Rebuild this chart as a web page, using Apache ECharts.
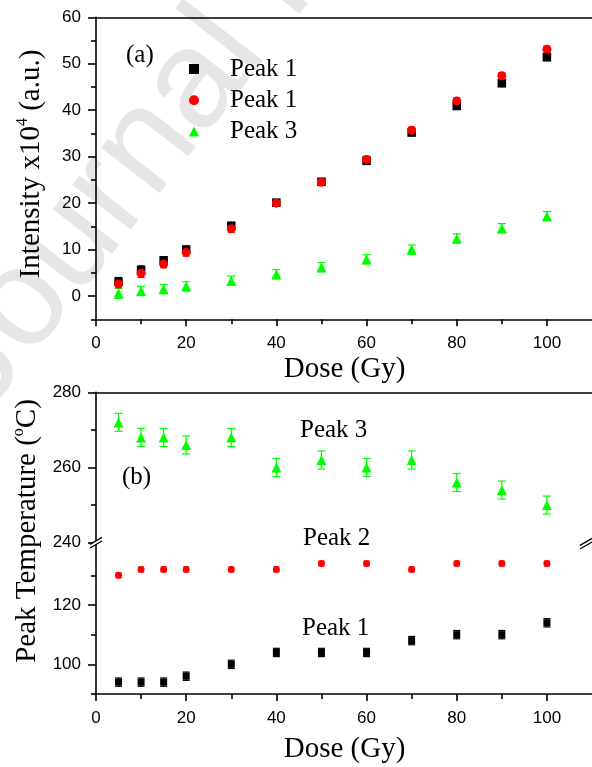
<!DOCTYPE html>
<html>
<head>
<meta charset="utf-8">
<script src="https://cdn.jsdelivr.net/npm/echarts@6/dist/echarts.min.js"></script>
<style>
  html, body { margin: 0; padding: 0; background: #fff; }
  #chart { width: 592px; height: 767px; }
</style>
</head>
<body>
<div id="chart"></div>
<script>
// Irradiation doses (Gy)
const doses = [5, 10, 15, 20, 30, 40, 50, 60, 70, 80, 90, 100];

// Panel (a): TL peak intensities, x10^4 a.u.
const intPeak1 = [3.1, 5.6, 7.7, 10.0, 15.1, 20.1, 24.6, 29.1, 35.2, 40.9, 45.8, 51.4];
const intPeak2 = [2.6, 4.9, 6.9, 9.4, 14.5, 20.0, 24.5, 29.4, 35.7, 42.0, 47.4, 53.1];
const intPeak3 = [0.6, 1.1, 1.5, 2.1, 3.3, 4.7, 6.2, 7.9, 10.0, 12.4, 14.6, 17.2];
const intErr1 = [0.9, 0.9, 0.8, 0.8, 0.8, 0.7, 0.7, 0.7, 0.7, 0.7, 0.7, 0.7];
const intErr2 = [0.9, 0.9, 0.8, 0.8, 0.8, 0.7, 0.7, 0.7, 0.7, 0.7, 0.7, 0.7];
const intErr3 = [1.1, 1.0, 1.0, 1.0, 1.0, 1.0, 1.0, 1.0, 1.0, 1.0, 1.0, 1.0];

// Panel (b): peak temperatures, degC
const tPeak1 = [94, 94, 94, 96, 100, 104, 104, 104, 108, 110, 110, 114];
const tPeak2 = [130, 132, 132, 132, 132, 132, 134, 134, 132, 134, 134, 134];
const tPeak3 = [272, 268, 268, 266, 268, 260, 262, 260, 262, 256, 254, 250];
const tErr1 = [1.4, 1.4, 1.4, 1.4, 1.4, 1.4, 1.4, 1.4, 1.4, 1.4, 1.4, 1.4];
const tErr2 = [0.8, 0.8, 0.8, 0.8, 0.8, 0.8, 0.8, 0.8, 0.8, 0.8, 0.8, 0.8];
const tErr3 = [2.4, 2.4, 2.4, 2.4, 2.4, 2.4, 2.4, 2.4, 2.4, 2.4, 2.4, 2.4];

// Legend texts of panel (a)
const legendLabels = ['Peak 1', 'Peak 1', 'Peak 3'];

// Tick values
const doseMajor = [0, 20, 40, 60, 80, 100];
const doseMinor = [10, 30, 50, 70, 90];
const intMajor = [0, 10, 20, 30, 40, 50, 60];
const intMinor = [-5, 5, 15, 25, 35, 45, 55];
const tHighMajor = [240, 260, 280];
const tHighMinor = [250, 270];
const tLowMajor = [100, 120];
const tLowMinor = [90, 110, 130];

const SANS = 'Liberation Sans, Arial, sans-serif';
const SERIF = 'Liberation Serif, Times New Roman, serif';
const BLACK = '#000000', RED = '#ff0000', GREEN = '#00ff00';

const chart = echarts.init(document.getElementById('chart'), null, { renderer: 'canvas' });

const lineStyle = { color: '#000', width: 1.6 };

function xAxisDef(grid, opts) {
  return Object.assign({
    type: 'value', gridIndex: grid, min: 0, max: 110, position: 'bottom',
    axisLine: { show: false, onZero: false, lineStyle },
    axisTick: { show: false },
    axisLabel: { show: false },
    splitLine: { show: false }
  }, opts);
}
function yAxisDef(grid, min, max, opts) {
  return Object.assign({
    type: 'value', gridIndex: grid, min, max, position: 'left',
    axisLine: { show: false, onZero: false, lineStyle },
    axisTick: { show: false },
    axisLabel: { show: false },
    splitLine: { show: false }
  }, opts);
}
const tickLabel = { show: true, color: '#000', fontFamily: SANS, fontSize: 17 };

const xAxes = [
  // 0: panel (a) bottom axis
  xAxisDef(0, {
    axisLine: { show: true, onZero: false, lineStyle },
    axisTick: { show: true, customValues: doseMajor, length: 7, lineStyle },
    axisLabel: Object.assign({ customValues: doseMajor, margin: 16 }, tickLabel)
  }),
  // 1: panel (a) minor ticks
  xAxisDef(0, { axisTick: { show: true, customValues: doseMinor, length: 5, lineStyle } }),
  // 2: panel (a) top frame
  xAxisDef(0, { position: 'top', axisLine: { show: true, onZero: false, lineStyle } }),
  // 3: panel (b) upper segment, top frame
  xAxisDef(1, { position: 'top', axisLine: { show: true, onZero: false, lineStyle } }),
  // 4: panel (b) bottom axis
  xAxisDef(2, {
    axisLine: { show: true, onZero: false, lineStyle },
    axisTick: { show: true, customValues: doseMajor, length: 7, lineStyle },
    axisLabel: Object.assign({ customValues: doseMajor, margin: 16 }, tickLabel)
  }),
  // 5: panel (b) minor ticks
  xAxisDef(2, { axisTick: { show: true, customValues: doseMinor, length: 5, lineStyle } })
];

const yAxes = [
  // 0: intensity
  yAxisDef(0, -5, 60, {
    axisLine: { show: true, onZero: false, lineStyle },
    axisTick: { show: true, customValues: intMajor, length: 8, lineStyle },
    axisLabel: Object.assign({ customValues: intMajor, margin: 15 }, tickLabel)
  }),
  // 1: intensity minor ticks
  yAxisDef(0, -5, 60, { axisTick: { show: true, customValues: intMinor, length: 5, lineStyle } }),
  // 2: temperature, upper segment
  yAxisDef(1, 240, 280, {
    axisLine: { show: true, onZero: false, lineStyle },
    axisTick: { show: true, customValues: tHighMajor, length: 8, lineStyle },
    axisLabel: Object.assign({ customValues: tHighMajor, margin: 15 }, tickLabel)
  }),
  // 3: upper segment minor ticks
  yAxisDef(1, 240, 280, { axisTick: { show: true, customValues: tHighMinor, length: 5, lineStyle } }),
  // 4: temperature, lower segment
  yAxisDef(2, 90, 141, {
    axisLine: { show: true, onZero: false, lineStyle },
    axisTick: { show: true, customValues: tLowMajor, length: 8, lineStyle },
    axisLabel: Object.assign({ customValues: tLowMajor, margin: 15 }, tickLabel)
  }),
  // 5: lower segment minor ticks
  yAxisDef(2, 90, 141, { axisTick: { show: true, customValues: tLowMinor, length: 5, lineStyle } })
];

// Vertical error bars with caps
function errorBars(xIdx, yIdx, ys, errs, color, capW) {
  return {
    type: 'custom', xAxisIndex: xIdx, yAxisIndex: yIdx, silent: true, z: 3,
    data: doses.map((d, i) => [d, ys[i], errs[i]]),
    encode: { x: 0, y: 1 },
    renderItem(params, api) {
      const x = api.value(0), y = api.value(1), e = api.value(2);
      const hi = api.coord([x, y + e]);
      const lo = api.coord([x, y - e]);
      const hw = capW / 2;
      const st = { stroke: color, lineWidth: 1.2 };
      return {
        type: 'group',
        children: [
          { type: 'line', shape: { x1: hi[0], y1: hi[1], x2: lo[0], y2: lo[1] }, style: st },
          { type: 'line', shape: { x1: hi[0] - hw, y1: hi[1], x2: hi[0] + hw, y2: hi[1] }, style: st },
          { type: 'line', shape: { x1: lo[0] - hw, y1: lo[1], x2: lo[0] + hw, y2: lo[1] }, style: st }
        ]
      };
    }
  };
}
function points(name, xIdx, yIdx, ys, symbol, size, color) {
  return {
    type: 'scatter', name, xAxisIndex: xIdx, yAxisIndex: yIdx,
    symbol, symbolSize: size, z: 4,
    itemStyle: { color, opacity: 1 },
    emphasis: { disabled: true },
    data: doses.map((d, i) => [d, ys[i]])
  };
}

const series = [
  errorBars(0, 0, intPeak1, intErr1, BLACK, 7),
  points('a1', 0, 0, intPeak1, 'rect', 8.5, BLACK),
  errorBars(0, 0, intPeak2, intErr2, RED, 7),
  points('a2', 0, 0, intPeak2, 'circle', 9, RED),
  errorBars(0, 0, intPeak3, intErr3, GREEN, 8),
  points('a3', 0, 0, intPeak3, 'triangle', 10, GREEN),

  errorBars(3, 2, tPeak3, tErr3, GREEN, 8),
  points('b3', 3, 2, tPeak3, 'triangle', 10, GREEN),
  errorBars(4, 4, tPeak2, tErr2, RED, 6),
  points('b2', 4, 4, tPeak2, 'circle', 7, RED),
  errorBars(4, 4, tPeak1, tErr1, BLACK, 7),
  points('b1', 4, 4, tPeak1, 'rect', 7, BLACK)
];

const labelFont = { fontFamily: SERIF, fontSize: 25, fill: '#000' };
function textEl(text, x, y, align) {
  return { type: 'text', x, y, z: 10, style: Object.assign({ text, align: align || 'left', verticalAlign: 'middle' }, labelFont) };
}

const titleRich = {
  m: { fontFamily: SERIF, fontSize: 29, color: '#000' },
  s: { fontFamily: SERIF, fontSize: 16, color: '#000', padding: [0, 0, 16, 0] }
};

const baseGraphic = [
  // faint diagonal watermark
  {
    type: 'text', x: 10.6, y: 434.6, rotation: 0.9076, z: -10, silent: true,
    style: { text: 'Journal Pre-proof', fontFamily: SANS, fontSize: 140, fill: '#e6e6e6', align: 'left', verticalAlign: 'bottom' }
  },
  textEl('(a)', 126, 55),
  textEl('(b)', 122, 477),
  textEl('Peak 3', 300, 430),
  textEl('Peak 2', 303, 538),
  textEl('Peak 1', 302, 628),
  { type: 'text', x: 344.5, y: 369, z: 10, style: { text: 'Dose (Gy)', align: 'center', verticalAlign: 'middle', fontFamily: SERIF, fontSize: 29, fill: '#000' } },
  { type: 'text', x: 344.5, y: 749, z: 10, style: { text: 'Dose (Gy)', align: 'center', verticalAlign: 'middle', fontFamily: SERIF, fontSize: 29, fill: '#000' } },
  {
    type: 'text', x: 31, y: 164, rotation: Math.PI / 2, z: 10,
    style: { text: '{m|Intensity x10}{s|4}{m| (a.u.)}', rich: titleRich, align: 'center', verticalAlign: 'middle' }
  },
  {
    type: 'text', x: 27, y: 531, rotation: Math.PI / 2, z: 10,
    style: { text: '{m|Peak Temperature (}{s|o}{m|C)}', rich: titleRich, align: 'center', verticalAlign: 'middle' }
  }
];

chart.setOption({
  animation: false,
  backgroundColor: '#fff',
  grid: [
    { left: 96, top: 17.3, width: 497, height: 302 },
    { left: 96, top: 392.3, width: 497, height: 150.4 },
    { left: 96, top: 542.7, width: 497, height: 151.3 }
  ],
  xAxis: xAxes,
  yAxis: yAxes,
  legend: {
    orient: 'vertical', left: 189, top: 56.5, padding: 0,
    itemWidth: 10, itemHeight: 10, itemGap: 6.3,
    data: [
      { name: 'a1', icon: 'rect' },
      { name: 'a2', icon: 'circle' },
      { name: 'a3', icon: 'triangle' }
    ],
    formatter: (name) => legendLabels[['a1', 'a2', 'a3'].indexOf(name)],
    textStyle: { fontFamily: SERIF, fontSize: 25, color: '#000', lineHeight: 24, padding: [0, 0, 0, 26] },
    selectedMode: false
  },
  series,
  graphic: baseGraphic
});

// Axis break marks on the temperature axis (left spine and right spine)
function breakMark(x, y) {
  const dx = 6, dy = 3.5, gap = 3.6;
  return [
    { type: 'polygon', z: 20, shape: { points: [[x - dx, y + dy - gap / 2], [x + dx, y - dy - gap / 2], [x + dx, y - dy + gap / 2], [x - dx, y + dy + gap / 2]] }, style: { fill: '#fff' } },
    { type: 'line', z: 21, shape: { x1: x - dx, y1: y + dy - gap / 2, x2: x + dx, y2: y - dy - gap / 2 }, style: { stroke: '#000', lineWidth: 1.3 } },
    { type: 'line', z: 21, shape: { x1: x - dx, y1: y + dy + gap / 2, x2: x + dx, y2: y - dy + gap / 2 }, style: { stroke: '#000', lineWidth: 1.3 } }
  ];
}
const bx0 = chart.convertToPixel({ xAxisIndex: 4 }, 0);
const bx1 = chart.convertToPixel({ xAxisIndex: 4 }, 110);
const by = chart.convertToPixel({ yAxisIndex: 2 }, 240);
chart.setOption({ graphic: baseGraphic.concat(breakMark(bx0, by), breakMark(bx1 - 6, by + 1)) });
</script>
</body>
</html>
